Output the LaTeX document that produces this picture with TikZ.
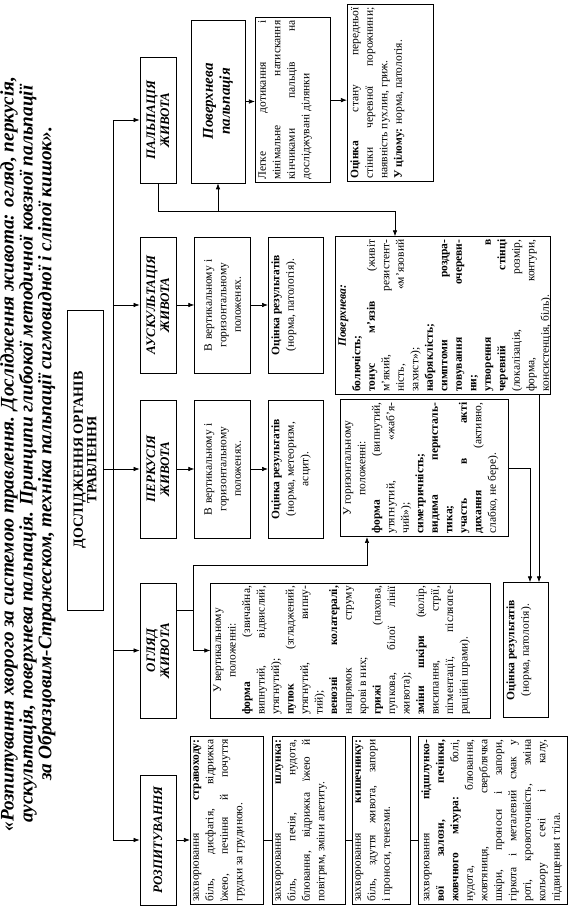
\documentclass[tikz,border=0pt]{standalone}
\usepackage{fontspec}
\setmainfont{Liberation Serif}
\usetikzlibrary{arrows.meta,positioning}
\newcommand{\tb}[3]{\parbox[c][#2][t]{#1}{#3}}

\begin{document}
\begin{tikzpicture}[x=1pt,y=1pt,rotate=90,transform shape,>={Latex[length=6pt,width=4.5pt]},line width=0.7pt,
  cat/.style={draw, align=center, minimum height=36pt, inner sep=1pt, font=\bfseries\itshape\fontsize{13}{14}\selectfont},
  box/.style={draw, inner sep=3pt, font=\fontsize{11.5}{14.5}\selectfont}]
\useasboundingbox (0,0) rectangle (911,573);

% title
\node (title) [align=center, font=\bfseries\itshape\fontsize{19.2}{17}\selectfont] at (457,545)
  {«Розпитування хворого за системою травлення. Дослідження живота: огляд, перкусія,\\
  аускультація, поверхнева пальпація. Принципи глибокої методичної ковзної пальпації\\
  за Образцовим-Стражеском, техніка пальпації сигмовидної і сліпої кишок».};

\node (main) [draw, align=center, minimum width=300pt, minimum height=36pt, inner sep=1pt, font=\bfseries\fontsize{14}{13.5}\selectfont] at (451,488) {ДОСЛІДЖЕННЯ ОРГАНІВ\\ТРАВЛЕННЯ};

% methods
\node (palp) [cat, minimum width=126pt] at (791,415) {ПАЛЬПАЦІЯ\\ЖИВОТА};
\node (ausk) [cat, minimum width=136pt] at (606,415) {АУСКУЛЬТАЦІЯ\\ЖИВОТА};
\node (perk) [cat, minimum width=138pt] at (442,415) {ПЕРКУСІЯ\\ЖИВОТА};
\node (ogl) [cat, minimum width=135pt] at (260.5,415) {ОГЛЯД\\ЖИВОТА};
\node (rozp) [cat, minimum width=130pt] at (71,415) {РОЗПИТУВАННЯ};

% palpation
\node (povp) [cat, minimum width=163pt, minimum height=54pt, font=\bfseries\itshape\fontsize{15}{17}\selectfont] at (809.5,355) {Поверхнева\\пальпація};
\node (legke) [box, anchor=north west] at (728,318) {\tb{159pt}{69pt}{Легке дотикання і\linebreak
  мінімальне натискання\linebreak кінчиками пальців на\linebreak досліджувані ділянки}};
\node (ocin) [box, anchor=north west] at (729,226) {\tb{171pt}{80pt}{\textbf{Оцінка} стану передньої\linebreak
  стінки черевної порожнини;\linebreak наявність пухлин, гриж.\\ \textbf{У цілому:} норма, патологія.}};
\node (pov) [box, anchor=north west] at (516,238) {\tb{152pt}{209pt}{{\centering\textbf{\textit{Поверхнева:}}\par}
  \textbf{болючість;}\par
  \textbf{тонус м'язів} (живіт\linebreak м'який, резистент-\linebreak ність, «м'язовий\linebreak захист»);\par
  \textbf{набряклість;}\par
  \textbf{симптоми роздра-\linebreak товування очереви-\linebreak ни;}\par
  \textbf{утворення в\linebreak черевній стінці}\linebreak (локалізація, розмір,\linebreak форма, контури,\linebreak консистенція, біль).}};

% auscultation, percussion
\node (ausk2) [box, below=18pt of ausk, align=center, text width=130pt, minimum height=56pt] {В вертикальному і\\горизонтальному\\положенях.};
\node (ausk3) [box, below=17pt of ausk2] {\tb{130pt}{49pt}{\centering\textbf{Оцінка результатів}\\(норма, патологія).}};
\node (perk2) [box, below=18pt of perk, align=center, text width=132pt, minimum height=56pt] {В вертикальному і\\горизонтальному\\положенях.};
\node (perk3) [box, below=17pt of perk2] {\tb{132pt}{49pt}{\centering\textbf{Оцінка результатів}\\(норма, метеоризм,\\асцит).}};

% inspection
\node (vert) [box, below=34pt of ogl] {\tb{129pt}{274pt}{{\centering У вертикальному\\положенні:\par}
  \textbf{форма} (звичайна,\linebreak випнутий, відвислий,\linebreak утягнутий);\par
  \textbf{пупок} (згладжений,\linebreak утягнутий, випну-\linebreak тий);\par
  \textbf{венозні колатералі,}\linebreak напрямок струму\linebreak крові в них;\par
  \textbf{грижі} (пахова,\linebreak пупкова, білої лінії\linebreak живота);\par
  \textbf{зміни шкіри} (колір,\linebreak висипання, стрії,\linebreak пігментації, післяопе-\linebreak раційні шрами).}};
\node (hor) [box, anchor=north west] at (374,233) {\tb{131pt}{162pt}{{\centering У горизонтальному\\положенні:\par}
  \textbf{форма} (випнутий,\linebreak утягнутий, «жаб'я-\linebreak чий»);\par
  \textbf{симетричність;}\par
  \textbf{видима перисталь-\linebreak тика;}\par
  \textbf{участь в акті}\linebreak \textbf{дихання} (активно,\linebreak слабко, не бере).}};
\node (oglres) [box, anchor=north west] at (193,70) {\tb{129pt}{39pt}{\centering\textbf{Оцінка результатів}\\(норма, патологія).}};

% history
\node (rozp1) [box, anchor=north west] at (6,383) {\tb{162pt}{67pt}{захворювання \textbf{стравоходу:}\linebreak
  біль, дисфагія, відрижка\linebreak їжею, печіння й почуття\linebreak грудки за грудиною.}};
\node (rozp2) [box, anchor=north west] at (6,301) {\tb{162pt}{67pt}{захворювання \textbf{шлунка:}\linebreak
  біль, печія, нудота,\linebreak блювання, відрижка їжею й\linebreak повітрям, зміни апетиту.}};
\node (rozp3) [box, anchor=north west] at (6,221) {\tb{162pt}{52pt}{захворювання \textbf{кишечнику:}\linebreak
  біль, здуття живота, запори\linebreak і проноси, тенезми.}};
\node (rozp4) [box, anchor=north west] at (6,155) {\tb{162pt}{143pt}{захворювання \textbf{підшлунко-\linebreak
  вої залози, печінки,\linebreak жовчного міхура:} болі,\linebreak нудота, блювання,\linebreak
  жовтяниця, сверблячка\linebreak шкіри, проноси і запори,\linebreak гіркота і металевий смак у\linebreak
  роті, кровоточивість, зміна\linebreak кольору сечі і калу,\linebreak підвищення t тіла.}};

% connectors
\coordinate (bus) at (0,460);
\draw (rozp |- bus) -- (palp |- bus);
\foreach \n in {palp,ausk,ogl,rozp} \draw[->] (\n |- bus) -- (\n);
\draw[->] (main.south -| perk) -- (perk);
\draw[->] (ausk) -- (ausk2);
\draw[->] (ausk2) -- (ausk3);
\draw[->] (perk) -- (perk2);
\draw[->] (perk2) -- (perk3);

\coordinate (pk) at (700,178);
\draw[->] (palp.west) -| (pk) -- (pk -| pov.east);
\draw[->] (povp.west -| pk) -- (povp.west);
\draw[->] (povp.south) -- (povp.south |- legke.north);
\draw[->] (legke.south) -- (legke.south |- ocin.north);

\coordinate (j) at (301,380);
\coordinate (j2) at (346,206);
\draw (ogl.south -| j) -- (j);
\draw[->] (j) -| (vert);
\draw[->] (j) -| (j2) -- (j2 -| hor.west);
\coordinate (q1) at (0,34);
\coordinate (q2) at (0,43);
\draw[->] (pov.west |- q1) -- (q1 -| oglres.east);
\draw[->] (hor.south) |- (q2 -| oglres.east);

\draw[->] (rozp) -- (rozp |- rozp1.north);
\foreach \a/\b in {rozp1/rozp2,rozp2/rozp3,rozp3/rozp4} \draw (\a.south -| rozp) -- (\b.north -| rozp);
\end{tikzpicture}
\end{document}
